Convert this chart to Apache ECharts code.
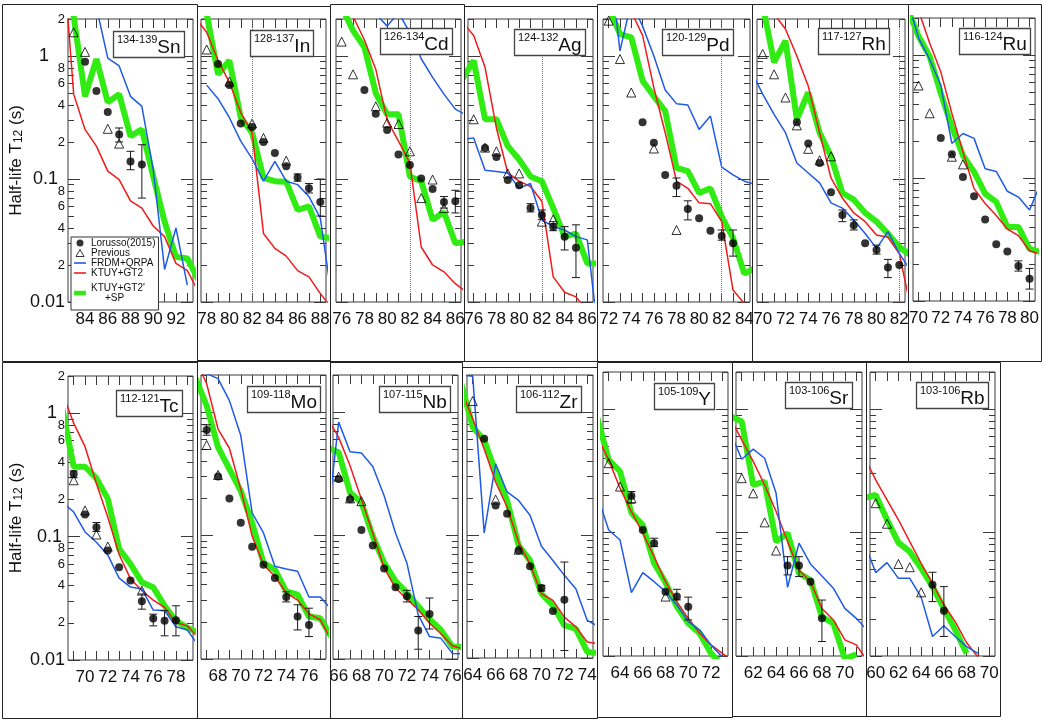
<!DOCTYPE html>
<html>
<head>
<meta charset="utf-8">
<script src="https://cdn.jsdelivr.net/npm/echarts@6/dist/echarts.min.js"></script>
<style>
  html, body { margin: 0; padding: 0; background: #fff; }
  #main { width: 1042px; height: 720px; }
</style>
</head>
<body>
<div id="main"></div>
<script>
// half-lives (s) vs neutron number N
// [N, T1/2] ; error bars are [N, low, high]
const snLorusso = [[84, 0.90], [85, 0.52], [86, 0.35], [87, 0.23], [88, 0.139], [89, 0.131]];
const snLorussoErr = [[87, 0.20, 0.26], [88, 0.119, 0.168], [89, 0.07, 0.19]];
const snPrevious = [[83, 1.56], [84, 1.08], [86, 0.256], [87, 0.194]];
const snFRDM = [[84, 5], [85, 2.5], [86, 0.96], [87, 0.83], [88, 0.47], [89, 0.39], [90, 0.119], [91, 0.0184], [92, 0.040], [93, 0.0137]];
const snKTUY = [[82, 8], [83, 0.49], [84, 0.253], [85, 0.185], [86, 0.116], [87, 0.099], [88, 0.0665], [89, 0.058], [90, 0.0415], [91, 0.034], [92, 0.0206], [93, 0.018], [94, 0.012]];
const snSP = [[82, 4], [83, 2.1], [84, 0.47], [85, 0.945], [86, 0.42], [87, 0.49], [88, 0.223], [89, 0.253], [90, 0.105], [91, 0.045], [92, 0.0233], [93, 0.0226], [94, 0.015]];

const inLorusso = [[79, 0.86], [80, 0.58], [81, 0.283], [82, 0.265], [83, 0.20], [84, 0.163], [85, 0.127], [86, 0.103], [87, 0.084], [88, 0.065]];
const inLorussoErr = [[86, 0.096, 0.11], [87, 0.077, 0.092], [88, 0.05, 0.10]];
const inPrevious = [[78, 1.13], [80, 0.62], [82, 0.283], [83, 0.216], [85, 0.141]];
const inFRDM = [[78, 0.58], [79, 0.45], [80, 0.315], [81, 0.203], [82, 0.146], [83, 0.096], [84, 0.139], [85, 0.096], [86, 0.090], [87, 0.072], [88, 0.048], [89, 0.011]];
const inKTUY = [[77, 2.05], [78, 1.56], [79, 0.92], [80, 0.61], [81, 0.347], [82, 0.238], [83, 0.036], [84, 0.0273], [85, 0.0236], [86, 0.018], [87, 0.016], [88, 0.0117], [89, 0.009]];
const inSP = [[77, 4], [78, 2.2], [79, 0.71], [80, 0.92], [81, 0.315], [82, 0.238], [83, 0.102], [84, 0.096], [85, 0.095], [86, 0.056], [87, 0.060], [88, 0.034], [89, 0.033]];

const cdLorusso = [[78, 0.53], [79, 0.34], [80, 0.25], [81, 0.158], [82, 0.130], [83, 0.101], [84, 0.083], [85, 0.065], [86, 0.066]];
const cdLorussoErr = [[85, 0.058, 0.072], [86, 0.053, 0.081]];
const cdPrevious = [[76, 1.31], [77, 0.71], [79, 0.39], [80, 0.287], [81, 0.28], [82, 0.168], [83, 0.070], [84, 0.099], [85, 0.058]];
const cdFRDM = [[78, 4], [79, 2.2], [80, 1.75], [81, 2.25], [82, 1.55], [83, 0.95], [84, 0.67], [85, 0.49], [86, 0.37], [87, 0.33]];
const cdKTUY = [[76, 3.5], [77, 2.1], [78, 1.35], [79, 0.78], [80, 0.30], [81, 0.203], [82, 0.135], [83, 0.028], [84, 0.020], [85, 0.0176], [86, 0.0141], [87, 0.012]];
const cdSP = [[76, 2.5], [77, 1.61], [78, 1.18], [79, 0.50], [80, 0.336], [81, 0.336], [82, 0.105], [83, 0.096], [84, 0.0465], [85, 0.054], [86, 0.030], [87, 0.031]];

const agLorusso = [[77, 0.179], [78, 0.151], [79, 0.098], [80, 0.089], [81, 0.058], [82, 0.051], [83, 0.041], [84, 0.034], [85, 0.0276]];
const agLorussoErr = [[81, 0.054, 0.063], [82, 0.047, 0.056], [83, 0.038, 0.045], [84, 0.0265, 0.041], [85, 0.0158, 0.0424]];
const agPrevious = [[76, 0.306], [77, 0.18], [78, 0.168], [79, 0.111], [80, 0.111], [82, 0.045], [83, 0.047]];
const agFRDM = [[75, 0.21], [76, 0.216], [77, 0.118], [78, 0.115], [79, 0.112], [80, 0.084], [81, 0.092], [82, 0.0465], [83, 0.041], [84, 0.0385], [85, 0.034], [86, 0.032], [87, 0.005]];
const agKTUY = [[75, 1.9], [76, 1.47], [77, 0.81], [78, 0.26], [79, 0.112], [80, 0.096], [81, 0.087], [82, 0.066], [83, 0.016], [84, 0.012], [85, 0.011], [86, 0.0085]];
const agSP = [[75, 0.65], [76, 0.92], [77, 0.306], [78, 0.306], [79, 0.185], [80, 0.144], [81, 0.105], [82, 0.096], [83, 0.058], [84, 0.034], [85, 0.036], [86, 0.0206], [87, 0.0206]];

const pdLorusso = [[75, 0.29], [76, 0.197], [77, 0.108], [78, 0.088], [79, 0.057], [80, 0.048], [81, 0.038], [82, 0.0344], [83, 0.030]];
const pdLorussoErr = [[78, 0.072, 0.102], [79, 0.0465, 0.0665], [82, 0.0318, 0.0385], [83, 0.0236, 0.0385]];
const pdPrevious = [[72, 1.94], [73, 0.945], [74, 0.505], [76, 0.177], [78, 0.0385]];
const pdFRDM = [[72, 7], [73, 1.1], [74, 2.76], [75, 1.75], [76, 1.0], [77, 0.53], [78, 0.41], [79, 0.40], [80, 0.253], [81, 0.325], [82, 0.125], [83, 0.108], [84, 0.096], [85, 0.09]];
const pdKTUY = [[73, 5], [74, 2.3], [75, 1.47], [76, 0.55], [77, 0.238], [78, 0.096], [79, 0.084], [80, 0.064], [81, 0.063], [82, 0.045], [83, 0.0125], [84, 0.0097]];
const pdSP = [[72, 2.5], [73, 1.51], [74, 1.42], [75, 0.63], [76, 0.47], [77, 0.357], [78, 0.123], [79, 0.116], [80, 0.077], [81, 0.084], [82, 0.0495], [83, 0.033], [84, 0.017], [85, 0.019]];

const rhLorusso = [[73, 0.29], [74, 0.194], [75, 0.135], [76, 0.078], [77, 0.051], [78, 0.042], [79, 0.030], [80, 0.0265], [81, 0.0191], [82, 0.020]];
const rhLorussoErr = [[77, 0.045, 0.056], [78, 0.0385, 0.0465], [80, 0.0245, 0.029], [81, 0.0158, 0.0222]];
const rhPrevious = [[70, 1.04], [71, 0.71], [72, 0.46], [73, 0.273], [74, 0.176], [75, 0.142], [76, 0.153]];
const rhFRDM = [[69, 0.75], [70, 0.49], [71, 0.336], [72, 0.238], [73, 0.135], [74, 0.112], [75, 0.093], [76, 0.064], [77, 0.058], [78, 0.0465], [79, 0.036], [80, 0.0273], [81, 0.0373], [82, 0.0248], [83, 0.018]];
const rhKTUY = [[70, 4], [71, 2.2], [72, 1.66], [73, 1.0], [74, 0.57], [75, 0.238], [76, 0.102], [77, 0.070], [78, 0.053], [79, 0.045], [80, 0.035], [81, 0.0336], [82, 0.0248], [83, 0.009]];
const rhSP = [[70, 2.6], [71, 0.89], [72, 1.33], [73, 0.306], [74, 0.505], [75, 0.238], [76, 0.153], [77, 0.077], [78, 0.068], [79, 0.053], [80, 0.045], [81, 0.036], [82, 0.028], [83, 0.024]];

const ruLorusso = [[72, 0.212], [73, 0.156], [74, 0.102], [75, 0.071], [76, 0.046], [77, 0.029], [78, 0.0253], [79, 0.0193], [80, 0.0152]];
const ruLorussoErr = [[79, 0.0175, 0.0212], [80, 0.0125, 0.0184]];
const ruPrevious = [[70, 0.565], [71, 0.336], [73, 0.149], [74, 0.129]];
const ruFRDM = [[69, 2.8], [70, 1.38], [71, 0.92], [72, 0.57], [73, 0.191], [74, 0.23], [75, 0.21], [76, 0.119], [77, 0.113], [78, 0.078], [79, 0.070], [80, 0.055], [81, 0.09]];
const ruKTUY = [[69, 4], [70, 2.3], [71, 1.25], [72, 0.73], [73, 0.336], [74, 0.163], [75, 0.082], [76, 0.062], [77, 0.0495], [78, 0.0385], [79, 0.034], [80, 0.0256], [81, 0.024]];
const ruSP = [[69, 2.4], [70, 1.42], [71, 0.975], [72, 0.49], [73, 0.261], [74, 0.153], [75, 0.112], [76, 0.0745], [77, 0.064], [78, 0.040], [79, 0.040], [80, 0.0265], [81, 0.025]];

const tcLorusso = [[69, 0.321], [70, 0.151], [71, 0.119], [72, 0.077], [73, 0.0565], [74, 0.044], [75, 0.0299], [76, 0.0217], [77, 0.0208], [78, 0.021]];
const tcLorussoErr = [[69, 0.30, 0.34], [71, 0.11, 0.13], [75, 0.0258, 0.0343], [76, 0.0189, 0.0235], [77, 0.0157, 0.0251], [78, 0.0157, 0.0275]];
const tcPrevious = [[69, 0.286], [70, 0.163], [71, 0.104], [72, 0.083], [75, 0.0365]];
const tcFRDM = [[68, 0.19], [69, 0.158], [70, 0.109], [71, 0.090], [72, 0.071], [73, 0.046], [74, 0.039], [75, 0.0376], [76, 0.0254], [77, 0.0252], [78, 0.0186], [79, 0.0175], [80, 0.013]];
const tcKTUY = [[68, 1.46], [69, 0.83], [70, 0.535], [71, 0.269], [72, 0.144], [73, 0.0716], [74, 0.0454], [75, 0.0365], [76, 0.0306], [77, 0.0267], [78, 0.0201], [79, 0.0189], [80, 0.015]];
const tcSP = [[68, 1.1], [69, 0.368], [70, 0.368], [71, 0.296], [72, 0.203], [73, 0.0796], [74, 0.060], [75, 0.0426], [76, 0.0388], [77, 0.0275], [78, 0.0208], [79, 0.0183], [80, 0.0165]];

const moLorusso = [[67, 0.718], [68, 0.301], [69, 0.20], [70, 0.127], [71, 0.081], [72, 0.058], [73, 0.0454], [74, 0.0318], [75, 0.0221], [76, 0.0189]];
const moLorussoErr = [[67, 0.65, 0.79], [74, 0.029, 0.035], [75, 0.0172, 0.0275], [76, 0.0152, 0.0258]];
const moPrevious = [[67, 0.542], [68, 0.31]];
const moFRDM = [[66, 2.2], [67, 2.05], [68, 1.87], [69, 1.24], [70, 0.646], [71, 0.153], [72, 0.105], [73, 0.0565], [74, 0.0537], [75, 0.0514], [76, 0.0318], [77, 0.0318], [78, 0.025]];
const moKTUY = [[66, 2.7], [67, 1.7], [68, 0.73], [69, 0.51], [70, 0.238], [71, 0.099], [72, 0.058], [73, 0.0468], [74, 0.0343], [75, 0.030], [76, 0.0232], [77, 0.0208], [78, 0.014]];
const moSP = [[66, 1.9], [67, 1.13], [68, 0.52], [69, 0.346], [70, 0.23], [71, 0.127], [72, 0.060], [73, 0.053], [74, 0.0353], [75, 0.0332], [76, 0.0221], [77, 0.0214], [78, 0.015]];

const nbLorusso = [[66, 0.287], [67, 0.197], [68, 0.111], [69, 0.083], [70, 0.054], [71, 0.0381], [72, 0.0322], [73, 0.017], [74, 0.0232]];
const nbLorussoErr = [[72, 0.029, 0.036], [73, 0.012, 0.0221], [74, 0.0175, 0.0312]];
const nbPrevious = [[66, 0.30], [67, 0.20], [68, 0.19]];
const nbFRDM = [[65, 0.13], [66, 0.83], [67, 0.478], [68, 0.467], [69, 0.363], [70, 0.21], [71, 0.105], [72, 0.060], [73, 0.0228], [74, 0.0152], [75, 0.0147], [76, 0.0111], [77, 0.011]];
const nbKTUY = [[65, 0.9], [66, 0.625], [67, 0.368], [68, 0.197], [69, 0.105], [70, 0.0547], [71, 0.0376], [72, 0.0306], [73, 0.0251], [74, 0.0195], [75, 0.016], [76, 0.0128], [77, 0.012]];
const nbSP = [[65, 0.52], [66, 0.472], [67, 0.223], [68, 0.185], [69, 0.099], [70, 0.060], [71, 0.0427], [72, 0.0343], [73, 0.0267], [74, 0.021], [75, 0.0172], [76, 0.0126], [77, 0.0125]];

const zrLorusso = [[65, 0.607], [66, 0.174], [67, 0.149], [68, 0.075], [69, 0.0556], [70, 0.037], [71, 0.0241], [72, 0.0298]];
const zrLorussoErr = [[70, 0.035, 0.039], [72, 0.0115, 0.0603]];
const zrPrevious = [[64, 1.23], [66, 0.194], [68, 0.076]];
const zrFRDM = [[63, 2.0], [64, 1.95], [65, 0.104], [66, 0.38], [67, 0.224], [68, 0.191], [69, 0.145], [70, 0.081], [71, 0.062], [72, 0.047], [73, 0.0366], [74, 0.0202], [75, 0.018]];
const zrKTUY = [[63, 1.5], [64, 0.88], [65, 0.50], [66, 0.27], [67, 0.169], [68, 0.0877], [69, 0.0577], [70, 0.0333], [71, 0.0294], [72, 0.0215], [73, 0.0179], [74, 0.0135], [75, 0.013]];
const zrSP = [[63, 1.7], [64, 0.755], [65, 0.589], [66, 0.325], [67, 0.191], [68, 0.0824], [69, 0.0622], [70, 0.0333], [71, 0.0268], [72, 0.0184], [73, 0.0173], [74, 0.0112], [75, 0.011]];

const yLorusso = [[65, 0.198], [66, 0.105], [67, 0.082], [68, 0.0332], [69, 0.0303], [70, 0.0251]];
const yLorussoErr = [[65, 0.173, 0.215], [67, 0.077, 0.09], [69, 0.0285, 0.0347], [70, 0.0196, 0.03]];
const yPrevious = [[63, 0.365], [64, 0.236], [65, 0.19], [68, 0.0303]];
const yFRDM = [[62, 0.2], [63, 0.105], [64, 0.087], [65, 0.0326], [66, 0.0474], [67, 0.040], [68, 0.0332], [69, 0.0259], [70, 0.019], [71, 0.0163], [72, 0.0123], [73, 0.0098], [74, 0.009]];
const yKTUY = [[62, 0.6], [63, 0.388], [64, 0.229], [65, 0.148], [66, 0.099], [67, 0.0638], [68, 0.040], [69, 0.0276], [70, 0.0202], [71, 0.0153], [72, 0.0123], [73, 0.0105], [74, 0.009]];
const ySP = [[62, 0.85], [63, 0.388], [64, 0.313], [65, 0.144], [66, 0.115], [67, 0.0564], [68, 0.0394], [69, 0.0251], [70, 0.0184], [71, 0.0153], [72, 0.0105], [73, 0.0085]];

const srLorusso = [[65, 0.054], [66, 0.054], [67, 0.040], [68, 0.0202]];
const srLorussoErr = [[65, 0.0454, 0.0638], [66, 0.044, 0.0638], [68, 0.0131, 0.0284]];
const srPrevious = [[61, 0.276], [62, 0.208], [63, 0.121], [64, 0.0715]];
const srFRDM = [[60, 0.65], [61, 0.393], [62, 0.474], [63, 0.40], [64, 0.208], [65, 0.036], [66, 0.082], [67, 0.0557], [68, 0.0445], [69, 0.0354], [70, 0.0243], [71, 0.0202], [72, 0.016]];
const srKTUY = [[60, 0.85], [61, 0.564], [62, 0.377], [63, 0.243], [64, 0.148], [65, 0.0845], [66, 0.0498], [67, 0.040], [68, 0.0243], [69, 0.0196], [70, 0.0135], [71, 0.0123], [72, 0.009]];
const srSP = [[60, 0.88], [61, 0.794], [62, 0.243], [63, 0.259], [64, 0.0845], [65, 0.099], [66, 0.0468], [67, 0.0413], [68, 0.0208], [69, 0.0184], [70, 0.0095], [71, 0.0103]];

const rbLorusso = [[65, 0.0377], [66, 0.0233]];
const rbLorussoErr = [[65, 0.0276, 0.0477], [66, 0.0144, 0.0365]];
const rbPrevious = [[60, 0.173], [61, 0.118], [62, 0.0557], [63, 0.0524], [64, 0.0328]];
const rbFRDM = [[59, 0.083], [60, 0.0474], [61, 0.0571], [62, 0.0426], [63, 0.0426], [64, 0.030], [65, 0.0144], [66, 0.0176], [67, 0.0144], [68, 0.0119], [69, 0.0105]];
const rbKTUY = [[59, 0.41], [60, 0.267], [61, 0.184], [62, 0.127], [63, 0.0845], [64, 0.0564], [65, 0.0388], [66, 0.0259], [67, 0.019], [68, 0.0128], [69, 0.0098]];
const rbSP = [[59, 0.19], [60, 0.202], [61, 0.127], [62, 0.083], [63, 0.070], [64, 0.0514], [65, 0.0365], [66, 0.0243], [67, 0.0163], [68, 0.0105]];

// y axis ticks / labels (log scale)
const yMajorTicks = [0.01, 0.1, 1];
const yMinorTicks = [0.02, 0.03, 0.04, 0.05, 0.06, 0.07, 0.08, 0.09, 0.2, 0.3, 0.4, 0.5, 0.6, 0.7, 0.8, 0.9, 2];
const yMinorLabels = [0.02, 0.04, 0.06, 0.08, 0.2, 0.4, 0.6, 0.8, 2];

const NAMES = {
  lor: 'Lorusso(2015)',
  prev: 'Previous',
  frdm: 'FRDM+QRPA',
  ktuy: 'KTUY+GT2',
  sp: "KTUY+GT2'+SP"
};

const panelData = {
  Sn: [snLorusso, snLorussoErr, snPrevious, snFRDM, snKTUY, snSP],
  In: [inLorusso, inLorussoErr, inPrevious, inFRDM, inKTUY, inSP],
  Cd: [cdLorusso, cdLorussoErr, cdPrevious, cdFRDM, cdKTUY, cdSP],
  Ag: [agLorusso, agLorussoErr, agPrevious, agFRDM, agKTUY, agSP],
  Pd: [pdLorusso, pdLorussoErr, pdPrevious, pdFRDM, pdKTUY, pdSP],
  Rh: [rhLorusso, rhLorussoErr, rhPrevious, rhFRDM, rhKTUY, rhSP],
  Ru: [ruLorusso, ruLorussoErr, ruPrevious, ruFRDM, ruKTUY, ruSP],
  Tc: [tcLorusso, tcLorussoErr, tcPrevious, tcFRDM, tcKTUY, tcSP],
  Mo: [moLorusso, moLorussoErr, moPrevious, moFRDM, moKTUY, moSP],
  Nb: [nbLorusso, nbLorussoErr, nbPrevious, nbFRDM, nbKTUY, nbSP],
  Zr: [zrLorusso, zrLorussoErr, zrPrevious, zrFRDM, zrKTUY, zrSP],
  Y: [yLorusso, yLorussoErr, yPrevious, yFRDM, yKTUY, ySP],
  Sr: [srLorusso, srLorussoErr, srPrevious, srFRDM, srKTUY, srSP],
  Rb: [rbLorusso, rbLorussoErr, rbPrevious, rbFRDM, rbKTUY, rbSP]
};

// panel layout: plot box [left, top, width, height], N range, label box position
const layout = [
  { el: 'Sn', mass: '134-139', box: [68, 19, 125, 283], n: [82.5, 93.5], tag: [113, 32], first: true, row: 0 },
  { el: 'In', mass: '128-137', box: [201, 19, 125, 283], n: [77.5, 88.5], tag: [250, 31], n82: true },
  { el: 'Cd', mass: '126-134', box: [336, 19, 125, 283], n: [75.5, 86.5], tag: [380, 29], n82: true },
  { el: 'Ag', mass: '124-132', box: [468, 19, 125, 283], n: [75.5, 86.5], tag: [514, 30], n82: true },
  { el: 'Pd', mass: '120-129', box: [603, 19, 147, 283], n: [71.5, 84.5], tag: [662, 30], n82: true },
  { el: 'Rh', mass: '117-127', box: [757, 19, 148, 283], n: [69.5, 82.5], tag: [818, 29], n82: true },
  { el: 'Ru', mass: '116-124', box: [913, 18, 126, 283], n: [69.5, 80.5], tag: [959, 29] },
  { el: 'Tc', mass: '112-121', box: [68, 376, 125, 284], n: [68.5, 79.5], tag: [116, 391], first: true, row: 1 },
  { el: 'Mo', mass: '109-118', box: [201, 375, 125, 284], n: [66.5, 77.5], tag: [247, 387] },
  { el: 'Nb', mass: '107-115', box: [333, 375, 125, 284], n: [65.5, 76.5], tag: [379, 387] },
  { el: 'Zr', mass: '106-112', box: [467, 375, 126, 283], n: [63.5, 74.5], tag: [516, 387] },
  { el: 'Y', mass: '105-109', box: [603, 372, 125, 284], n: [62.5, 73.5], tag: [654, 384] },
  { el: 'Sr', mass: '103-106', box: [736, 372, 126, 284], n: [60.5, 71.5], tag: [785, 383] },
  { el: 'Rb', mass: '103-106', box: [870, 372, 125, 284], n: [59.5, 70.5], tag: [916, 383] }
];

// outer frames of the pasted sub-figures
const tiles = [
  [2, 4, 195, 357], [197, 6, 133, 355], [330, 4, 134, 357], [464, 6, 133, 355],
  [597, 4, 155, 357], [752, 4, 156, 357], [908, 4, 133, 357],
  [2, 362, 195, 356], [197, 360, 133, 358], [330, 362, 132, 356], [462, 367, 135, 351],
  [597, 362, 135, 355], [732, 362, 134, 354], [866, 362, 134, 354]
];

const FONT = "'Liberation Sans', Arial, Helvetica, sans-serif";
const BLUE = '#1f5ae6';
const RED = '#ee1c1c';
const GREEN = '#31ec12';
const AXIS = '#3a3a3a';

const chart = echarts.init(document.getElementById('main'), null, { renderer: 'canvas' });

function leadDigit(v) {
  const e = Math.floor(Math.log10(v) + 1e-9);
  return String(Math.round(v / Math.pow(10, e)));
}

function renderErr(params, api) {
  const x = api.value(0);
  const lo = api.coord([x, api.value(1)]);
  const hi = api.coord([x, api.value(2)]);
  const cap = 4;
  const st = { stroke: '#1a1a1a', lineWidth: 1 };
  return {
    type: 'group',
    children: [
      { type: 'line', shape: { x1: lo[0], y1: lo[1], x2: hi[0], y2: hi[1] }, style: st },
      { type: 'line', shape: { x1: lo[0] - cap, y1: lo[1], x2: lo[0] + cap, y2: lo[1] }, style: st },
      { type: 'line', shape: { x1: hi[0] - cap, y1: hi[1], x2: hi[0] + cap, y2: hi[1] }, style: st }
    ]
  };
}

const grids = [], xAxes = [], yAxes = [], series = [], titles = [];

layout.forEach(function (p, i) {
  const d = panelData[p.el];
  grids.push({
    left: p.box[0], top: p.box[1], width: p.box[2], height: p.box[3],
    show: true, borderColor: AXIS, borderWidth: 1, backgroundColor: 'rgba(0,0,0,0)'
  });

  const ints = [], evens = [];
  for (let n = Math.ceil(p.n[0]); n <= p.n[1]; n++) {
    ints.push(n);
    if (n % 2 === 0) evens.push(n);
  }
  ['bottom', 'top'].forEach(function (pos) {
    xAxes.push({
      type: 'value', gridIndex: i, min: p.n[0], max: p.n[1], position: pos,
      axisLine: { show: false }, splitLine: { show: false },
      axisTick: { inside: true, length: 9, customValues: ints, lineStyle: { color: AXIS } },
      axisLabel: {
        show: pos === 'bottom', customValues: evens, margin: 9,
        fontSize: 17, color: '#111', fontFamily: FONT
      }
    });
  });

  const pad1 = p.row === 0 ? 16 : 8;
  const pad01 = p.row === 0 ? 7 : 3;
  ['left', 'right'].forEach(function (pos) {
    const showLab = pos === 'left' && !!p.first;
    const major = {
      type: 'log', logBase: 10, gridIndex: i, min: 0.01, max: 2, position: pos,
      axisLine: { show: false }, splitLine: { show: false },
      axisTick: { inside: true, length: 12, customValues: yMajorTicks, lineStyle: { color: AXIS } },
      axisLabel: {
        show: showLab, customValues: yMajorTicks, margin: 3, color: '#111', fontFamily: FONT,
        formatter: function (v) {
          const e = Math.round(Math.log10(v));
          return e === 0 ? '{one|1}' : (e === -1 ? '{ten|0.1}' : '{hun|0.01}');
        },
        rich: {
          one: { fontSize: 18, fontFamily: FONT, color: '#111', padding: [0, pad1, 0, 0] },
          ten: { fontSize: 18, fontFamily: FONT, color: '#111', padding: [0, pad01, 0, 0] },
          hun: { fontSize: 18, fontFamily: FONT, color: '#111' }
        }
      }
    };
    if (showLab) {
      major.name = 'Half-life T{sub|12} (s)';
      major.nameLocation = 'middle';
      major.nameRotate = 90;
      major.nameGap = 43;
      major.nameTextStyle = {
        fontSize: 17, fontFamily: FONT, color: '#111',
        rich: { sub: { fontSize: 12, fontFamily: FONT, color: '#111', verticalAlign: 'bottom', padding: [6, 0, 0, 0] } }
      };
    }
    yAxes.push(major);
    yAxes.push({
      type: 'log', logBase: 10, gridIndex: i, min: 0.01, max: 2, position: pos,
      axisLine: { show: false }, splitLine: { show: false },
      axisTick: { inside: true, length: 6, customValues: yMinorTicks, lineStyle: { color: AXIS } },
      axisLabel: {
        show: showLab, customValues: yMinorLabels, margin: 3,
        fontSize: 13, color: '#111', fontFamily: FONT,
        formatter: leadDigit
      }
    });
  });

  const xi = 2 * i, yi = 4 * i;
  series.push({
    type: 'line', name: NAMES.sp, xAxisIndex: xi, yAxisIndex: yi, data: d[5],
    symbol: 'none', lineStyle: { color: GREEN, width: 6 }, itemStyle: { color: GREEN },
    z: 2, silent: true
  });
  const red = {
    type: 'line', name: NAMES.ktuy, xAxisIndex: xi, yAxisIndex: yi, data: d[4],
    symbol: 'none', lineStyle: { color: RED, width: 1.5 }, itemStyle: { color: RED },
    z: 3, silent: true
  };
  if (p.n82) {
    red.markLine = {
      silent: true, symbol: ['none', 'none'], label: { show: false },
      lineStyle: { type: 'dotted', color: '#777', width: 1 },
      data: [{ xAxis: 82 }]
    };
  }
  series.push(red);
  series.push({
    type: 'line', name: NAMES.frdm, xAxisIndex: xi, yAxisIndex: yi, data: d[3],
    symbol: 'none', lineStyle: { color: BLUE, width: 1.5 }, itemStyle: { color: BLUE },
    z: 3, silent: true
  });
  series.push({
    type: 'scatter', name: NAMES.prev, xAxisIndex: xi, yAxisIndex: yi, data: d[2],
    symbol: 'triangle', symbolSize: 9,
    itemStyle: { color: 'rgba(255,255,255,0)', borderColor: '#000', borderWidth: 1 },
    z: 4, silent: true
  });
  series.push({
    type: 'custom', name: 'err', xAxisIndex: xi, yAxisIndex: yi, data: d[1],
    encode: { x: 0, y: [1, 2] }, renderItem: renderErr, z: 5, silent: true
  });
  series.push({
    type: 'scatter', name: NAMES.lor, xAxisIndex: xi, yAxisIndex: yi, data: d[0],
    symbol: 'circle', symbolSize: 8, itemStyle: { color: '#000' },
    z: 6, silent: true
  });

  titles.push({
    text: '{sup|' + p.mass + '}{el|' + p.el + '}',
    left: p.tag[0], top: p.tag[1],
    padding: [2, 4, 1, 4],
    borderColor: '#444', borderWidth: 1.3, backgroundColor: '#fff',
    textStyle: {
      fontFamily: FONT, color: '#111', fontWeight: 'normal',
      rich: {
        sup: { fontSize: 11, fontFamily: FONT, fontWeight: 'normal', color: '#111', verticalAlign: 'top', lineHeight: 22 },
        el: { fontSize: 19, fontFamily: FONT, fontWeight: 'normal', color: '#111', lineHeight: 22, padding: [5, 0, 0, 0] }
      }
    }
  });
});

const option = {
  animation: false,
  backgroundColor: '#fff',
  title: titles,
  grid: grids,
  xAxis: xAxes,
  yAxis: yAxes,
  series: series,
  legend: {
    orient: 'vertical', left: 71, top: 237,
    padding: [1, 3, 2, 3], itemGap: 0, itemWidth: 12, itemHeight: 7,
    borderColor: '#333', borderWidth: 1, backgroundColor: '#fff',
    selectedMode: false, z: 10, symbolKeepAspect: true,
    textStyle: { fontSize: 10, lineHeight: 10, fontFamily: FONT, color: '#111' },
    formatter: function (name) { return name === NAMES.sp ? "KTUY+GT2'\n     +SP" : name; },
    data: [
      { name: NAMES.lor, icon: 'circle', itemStyle: { color: '#000' } },
      { name: NAMES.prev, icon: 'path://M6,1L10,8H2Z', itemStyle: { color: '#fff', borderColor: '#000', borderWidth: 1 } },
      { name: NAMES.frdm, icon: 'path://M0,0H12V1.6H0Z', itemStyle: { color: BLUE } },
      { name: NAMES.ktuy, icon: 'path://M0,0H12V1.6H0Z', itemStyle: { color: RED } },
      { name: NAMES.sp, icon: 'path://M0,0H12V4.5H0Z', itemStyle: { color: GREEN }, textStyle: { padding: [10, 0, 0, 0] } }
    ]
  },
  graphic: tiles.map(function (t) {
    return {
      type: 'rect', silent: true, z: 100,
      shape: { x: t[0] + 0.5, y: t[1] + 0.5, width: t[2], height: t[3] },
      style: { fill: 'none', stroke: '#222', lineWidth: 1 }
    };
  })
};

chart.setOption(option);
</script>
</body>
</html>
